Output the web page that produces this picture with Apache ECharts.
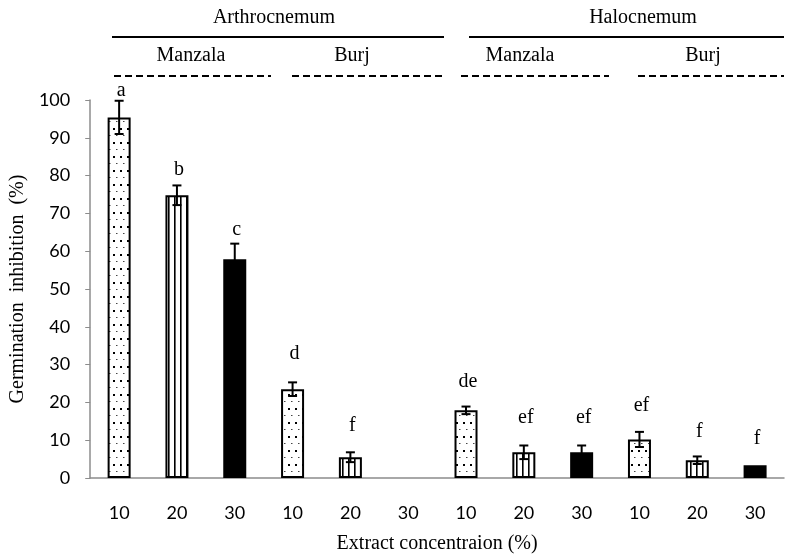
<!DOCTYPE html>
<html><head><meta charset="utf-8">
<script src="https://cdn.jsdelivr.net/npm/echarts@6/dist/echarts.min.js"></script>
<style>html,body{margin:0;padding:0;background:#fff}#c{width:787px;height:559px}</style>
</head><body><div id="c"></div>
<script>
// ---- data ----
const categories = ['10','20','30','10','20','30','10','20','30','10','20','30'];
const inhibition = [95.4, 74.8, 57.9, 23.5, 5.5, null, 17.9, 6.8, 6.8, 10.2, 4.7, 3.4];
const errors =     [4.4, 2.6, 4.1, 1.8, 1.3, null, 1.0, 1.8, 1.8, 2.0, 1.0, 0];
const letters = ['a','b','c','d','f','','de','ef','ef','ef','f','f'];
const yTicks = [0,10,20,30,40,50,60,70,80,90,100];

// ---- styling ----
const letterGap = [10,16,14,29,27,0,25,28,28,26,25,26];
function mkDots(){
  const c=document.createElement('canvas');c.width=7;c.height=14;
  const g=c.getContext('2d');g.fillStyle='#fff';g.fillRect(0,0,7,14);
  g.fillStyle='#000';g.fillRect(1,2,2,2);
  g.fillStyle='#444';g.fillRect(4,9,1.5,1);
  return c;
}
function mkStripes(){
  const c=document.createElement('canvas');c.width=6;c.height=4;
  const g=c.getContext('2d');g.fillStyle='#fff';g.fillRect(0,0,6,4);
  g.fillStyle='#000';g.fillRect(0,0,1.6,4);
  return c;
}
const patterns=[{image:mkDots(),repeat:'repeat'},{image:mkStripes(),repeat:'repeat'},'#000'];

const chart = echarts.init(document.getElementById('c'));
const serif = '"Liberation Serif", "DejaVu Serif", serif';
const sans = 'Lato, "Open Sans", sans-serif';

const barData = inhibition.map((v,i)=>({
  value: v,
  itemStyle:{color: patterns[i%3], borderColor:'#000', borderWidth:2}
}));

chart.setOption({
  animation:false,
  grid:{left:90,right:3,top:100,bottom:79,containLabel:false},
  xAxis:{
    type:'category', data:categories,
    axisLine:{lineStyle:{color:'#8c8c8c',width:1.5}},
    axisTick:{show:false},
    axisLabel:{color:'#000',fontFamily:sans,fontSize:18,margin:26},
    name:'Extract concentraion (%)', nameLocation:'middle', nameGap:56,
    nameTextStyle:{color:'#000',fontFamily:serif,fontSize:20}
  },
  yAxis:{
    type:'value', min:0, max:100, interval:10,
    axisLine:{show:true,lineStyle:{color:'#8c8c8c',width:1.5}},
    axisTick:{show:true,length:5,lineStyle:{color:'#8c8c8c'}},
    splitLine:{show:false},
    axisLabel:{color:'#000',fontFamily:sans,fontSize:18,margin:20,
      formatter:v=>yTicks.includes(v)?String(v):''},
    name:'Germination  inhibition  (%)', nameLocation:'middle', nameGap:62,
    nameTextStyle:{color:'#000',fontFamily:serif,fontSize:20}
  },
  series:[
    {type:'bar', data:barData, barWidth:23, silent:true},
    {type:'custom', silent:true, z:5,
     data: inhibition.map((v,i)=>[i,v,errors[i]]),
     renderItem:(params,api)=>{
       const i=api.value(0), m=api.value(1), e=api.value(2);
       if(m==null||isNaN(m)||!e) return null;
       const top=api.coord([i,m+e]), bot=api.coord([i,m-e]);
       const x=top[0], w=4.5;
       const st={stroke:'#000',lineWidth:2};
       return {type:'group',children:[
         {type:'line',shape:{x1:x,y1:top[1],x2:x,y2:bot[1]},style:st},
         {type:'line',shape:{x1:x-w,y1:top[1],x2:x+w,y2:top[1]},style:st},
         {type:'line',shape:{x1:x-w,y1:bot[1],x2:x+w,y2:bot[1]},style:st}
       ]};
     }},
    {type:'custom', silent:true, z:6,
     data: inhibition.map((v,i)=>[i,v,errors[i]]),
     renderItem:(params,api)=>{
       const i=api.value(0), m=api.value(1), e=api.value(2)||0;
       if(m==null||isNaN(m)) return null;
       const p=api.coord([i,m+e]);
       return {type:'text',style:{text:letters[i],x:p[0]+2,y:p[1]-letterGap[params.dataIndex],
         align:'center',verticalAlign:'middle',font:'20px '+serif,fill:'#000'}};
     }}
  ],
  graphic:[
    {type:'text',style:{text:'Arthrocnemum',x:274,y:18,align:'center',verticalAlign:'middle',font:'20px '+serif,fill:'#000'}},
    {type:'text',style:{text:'Halocnemum',x:643,y:18,align:'center',verticalAlign:'middle',font:'20px '+serif,fill:'#000'}},
    {type:'line',shape:{x1:112,y1:37,x2:444,y2:37},style:{stroke:'#000',lineWidth:2}},
    {type:'line',shape:{x1:469,y1:37,x2:784,y2:37},style:{stroke:'#000',lineWidth:2}},
    {type:'text',style:{text:'Manzala',x:191,y:56,align:'center',verticalAlign:'middle',font:'20px '+serif,fill:'#000'}},
    {type:'text',style:{text:'Burj',x:352,y:56,align:'center',verticalAlign:'middle',font:'20px '+serif,fill:'#000'}},
    {type:'text',style:{text:'Manzala',x:520,y:56,align:'center',verticalAlign:'middle',font:'20px '+serif,fill:'#000'}},
    {type:'text',style:{text:'Burj',x:703,y:56,align:'center',verticalAlign:'middle',font:'20px '+serif,fill:'#000'}},
    {type:'line',shape:{x1:114,y1:76,x2:271,y2:76},style:{stroke:'#000',lineWidth:2,lineDash:[7,4]}},
    {type:'line',shape:{x1:292,y1:76,x2:446,y2:76},style:{stroke:'#000',lineWidth:2,lineDash:[7,4]}},
    {type:'line',shape:{x1:461,y1:76,x2:609,y2:76},style:{stroke:'#000',lineWidth:2,lineDash:[7,4]}},
    {type:'line',shape:{x1:638,y1:76,x2:784,y2:76},style:{stroke:'#000',lineWidth:2,lineDash:[7,4]}}
  ]
});
</script></body></html>
